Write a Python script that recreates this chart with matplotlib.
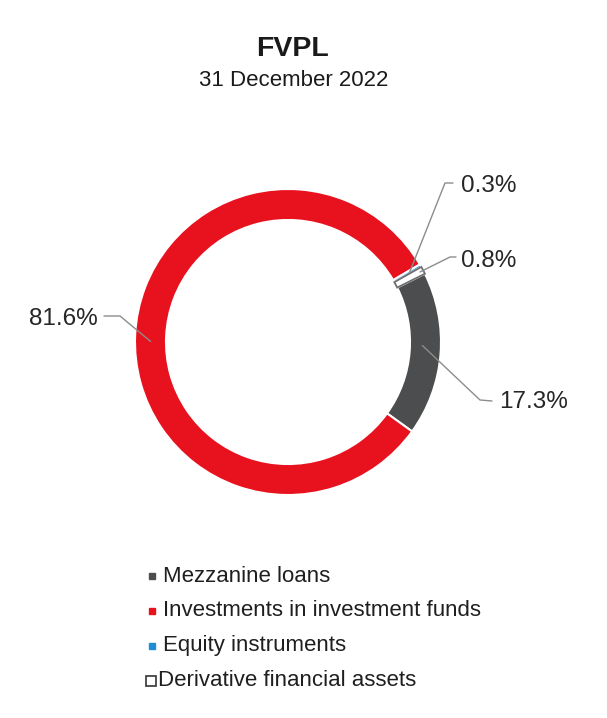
import numpy as np
import matplotlib
matplotlib.use("Agg")
import matplotlib.pyplot as plt

plt.rcParams['font.family'] = ['Liberation Sans', 'DejaVu Sans']

categories = ["Mezzanine loans", "Investments in investment funds",
              "Equity instruments", "Derivative financial assets"]
values = [17.3, 81.6, 0.3, 0.8]
labels = ["17.3%", "81.6%", "0.3%", "0.8%"]
colors = ["#4b4d4e", "#e8121f", "#1f8dd6", "#ffffff"]

W, H = 607, 718
fig = plt.figure(figsize=(W / 100, H / 100), dpi=100)
ax = fig.add_axes([0, 0, 1, 1])

cx, cy = 288, H - 342
R = 153
width = 31
start = 26.5

wedges, _ = ax.pie(values, colors=colors, startangle=start, counterclock=False,
                   radius=R, center=(cx, cy),
                   wedgeprops=dict(width=width, edgecolor="white", linewidth=1.5))
# derivative slice outlined in gray
wedges[3].set_edgecolor("#6f6f6f")
wedges[3].set_linewidth(1.3)
wedges[3].set_zorder(3)

ax.set_xlim(0, W)
ax.set_ylim(0, H)
ax.set_aspect("auto")
ax.axis("off")

# leader line layout (pixel coords from top): text anchor, elbow, end of horizontal part
label_specs = {
    0: dict(text=(499, 402), elbow=(480, 400), hend=(492, 401), ha="left", frac=0.55, dr=-3),
    1: dict(text=(98, 319), elbow=(120, 316), hend=(104, 316), ha="right", frac=None, dr=0),
    2: dict(text=(461, 186), elbow=(445, 183), hend=(453, 183), ha="left", frac=0.5, dr=3),
    3: dict(text=(461, 261), elbow=(450, 257), hend=(456, 257), ha="left", frac=0.5, dr=12),
}
rmid = R - width / 2
for i, w in enumerate(wedges):
    s = label_specs[i]
    t1, t2 = w.theta1, w.theta2
    if s["frac"] is None:
        ang = np.deg2rad(180 - 1.5)
        r = rmid
        px, py = cx + r * np.cos(ang), cy - 3 + r * np.sin(ang)
    else:
        ang = np.deg2rad(t1 + (t2 - t1) * s["frac"])
        r = rmid + s["dr"]
        px, py = cx + r * np.cos(ang), cy + r * np.sin(ang)
    ex, ey = s["elbow"][0], H - s["elbow"][1]
    hx, hy = s["hend"][0], H - s["hend"][1]
    ax.plot([px, ex, hx], [py, ey, hy], color="#8c8c8c", lw=1.0, zorder=4,
            solid_capstyle="round")
    ax.text(s["text"][0], H - s["text"][1], labels[i], ha=s["ha"], va="center",
            fontsize=17.5, color="#262626")

fig.text(292 / W, 1 - 49 / H, "FVPL", ha="center", va="center",
         fontsize=20.5, fontweight="bold", color="#1a1a1a")
fig.text(294 / W, 1 - 80 / H, "31 December 2022", ha="center", va="center",
         fontsize=16, color="#1a1a1a")

# legend, drawn row by row
row_y = [576, 611, 646, 681]
for i, (cat, yy) in enumerate(zip(categories, row_y)):
    if i < 3:
        ax.plot([152], [H - yy], ls="none", marker="s", markersize=4.2,
                markerfacecolor=colors[i], markeredgecolor=colors[i])
        tx = 163
    else:
        ax.plot([151], [H - yy], ls="none", marker="s", markersize=7.5,
                markerfacecolor="white", markeredgecolor="#333333", markeredgewidth=1.2)
        tx = 158
    ax.text(tx, H - yy, cat, ha="left", va="center", fontsize=16, color="#1f1f1f")

fig.savefig("out.png", dpi=100, facecolor="white")
